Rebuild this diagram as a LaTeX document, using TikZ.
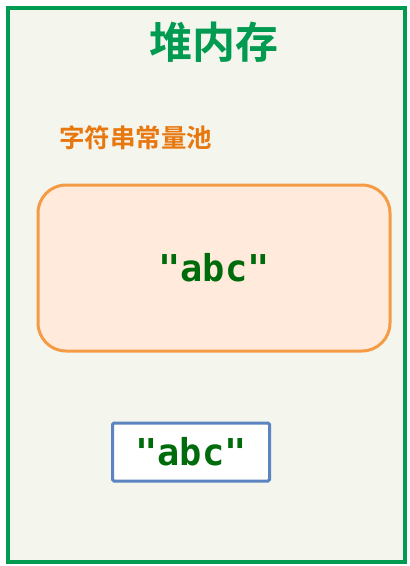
\documentclass[tikz,border=0pt]{standalone}
\usepackage{fontspec}
\newfontfamily\cjk{Noto Sans CJK SC Bold}
\newfontfamily\mono{DejaVu Sans Mono Bold}
\definecolor{heapgreen}{HTML}{009A50}
\definecolor{heapfill}{HTML}{F4F6EE}
\definecolor{poolorange}{HTML}{F59B45}
\definecolor{poolfill}{HTML}{FFEADB}
\definecolor{labelorange}{HTML}{E8770E}
\definecolor{strgreen}{HTML}{006B0A}
\definecolor{boxblue}{HTML}{5B84C0}
\tikzset{
  strtext/.style={font=\mono\fontsize{37}{40}\selectfont, text=strgreen},
}
\begin{document}
\begin{tikzpicture}[x=1pt,y=-1pt]
\useasboundingbox (0,0) rectangle (410,566);
\fill[white] (0,0) rectangle (410,566);
\draw[heapgreen, line width=4pt, fill=heapfill] (8,8) rectangle (405,562);
\node[font=\cjk\fontsize{43}{46}\selectfont, text=heapgreen] (title) at (214,42) {堆内存};
\node[font=\cjk\fontsize{25.5}{28}\selectfont, text=labelorange, anchor=west, inner sep=0pt] (poollabel) at (59,138) {字符串常量池};
\node[draw=poolorange, line width=3pt, fill=poolfill, rounded corners=28pt, minimum width=352pt, minimum height=166pt] (pool) at (214,268) {};
\node[strtext] (s1) at (pool.center) {"abc"};
\node[draw=boxblue, line width=3pt, fill=white, rounded corners=1.5pt, minimum width=157pt, minimum height=58pt, strtext] (s2) at (191,452) {"abc"};
\end{tikzpicture}
\end{document}
